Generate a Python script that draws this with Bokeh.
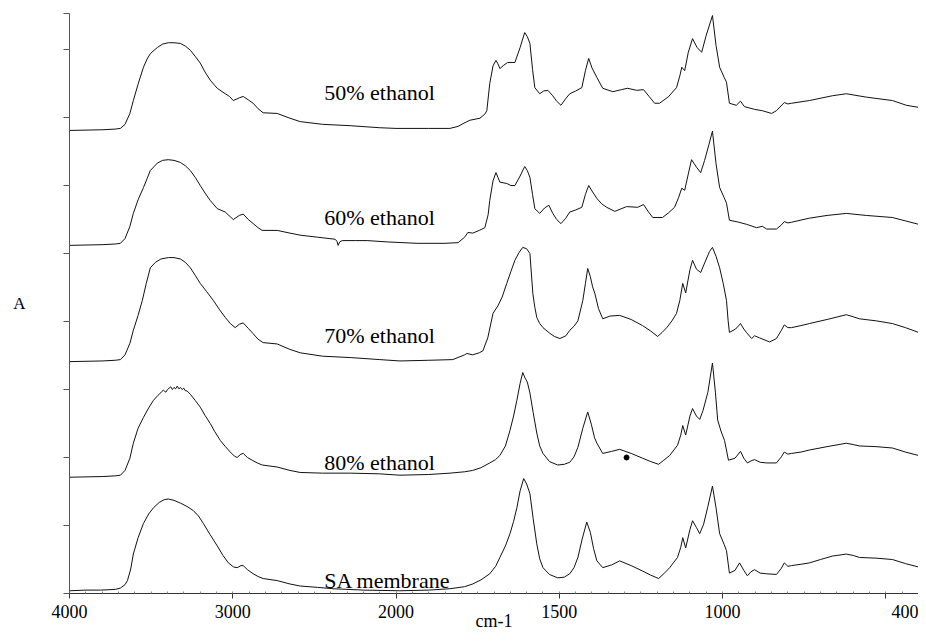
import numpy as np
from bokeh.plotting import figure
from bokeh.models import Range1d, FixedTicker
from bokeh.embed import file_html
from bokeh.resources import INLINE
from bokeh.core.properties import value

# ---------------- data ----------------
series_names = ["SA membrane", "80% ethanol", "70% ethanol", "60% ethanol", "50% ethanol"]
offsets = [0.04, 1.71, 3.41, 5.12, 6.81]          # vertical stacking offsets (A units)
label_heights = [0.15, 0.22, 0.38, 0.41, 0.56]    # label heights above each baseline
label_wn = 2440

# (wavenumber cm-1, absorbance above own baseline)
pts_sa = [(4000, 0.00), (3900, 0.01), (3810, 0.01), (3720, 0.02), (3688, 0.04), (3660, 0.09), (3645, 0.15),
          (3625, 0.32), (3609, 0.54), (3580, 0.78), (3547, 0.99), (3515, 1.13), (3486, 1.22), (3450, 1.30),
          (3420, 1.34), (3395, 1.35), (3360, 1.33), (3321, 1.29), (3280, 1.24), (3242, 1.18), (3210, 1.10),
          (3180, 0.99), (3140, 0.83), (3095, 0.66), (3060, 0.52), (3027, 0.41), (2995, 0.35), (2973, 0.34),
          (2950, 0.37), (2936, 0.37), (2910, 0.31), (2875, 0.25), (2845, 0.21), (2814, 0.18), (2728, 0.15),
          (2650, 0.10), (2587, 0.07), (2480, 0.05), (2385, 0.03), (2200, 0.01), (1988, 0.00), (1900, 0.01),
          (1835, 0.03), (1790, 0.06), (1765, 0.10), (1740, 0.16), (1713, 0.25), (1695, 0.36), (1682, 0.49),
          (1665, 0.66), (1651, 0.84), (1640, 1.02), (1630, 1.22), (1620, 1.47), (1609, 1.65), (1600, 1.57),
          (1590, 1.43), (1580, 1.06), (1569, 0.69), (1560, 0.47), (1550, 0.34), (1530, 0.24), (1505, 0.19),
          (1485, 0.20), (1468, 0.25), (1455, 0.34), (1443, 0.49), (1430, 0.76), (1416, 1.01), (1405, 0.86),
          (1395, 0.62), (1385, 0.44), (1367, 0.34), (1340, 0.38), (1315, 0.44), (1280, 0.37), (1245, 0.29),
          (1220, 0.23), (1196, 0.18), (1180, 0.25), (1162, 0.34), (1138, 0.49), (1128, 0.64), (1122, 0.78),
          (1113, 0.63), (1100, 0.90), (1092, 1.03), (1080, 0.93), (1070, 0.84), (1058, 0.98), (1045, 1.24),
          (1031, 1.54), (1020, 1.22), (1009, 0.84), (995, 0.68), (988, 0.59), (979, 0.26), (962, 0.30),
          (948, 0.41), (935, 0.30), (924, 0.22), (913, 0.28), (902, 0.31), (885, 0.26), (865, 0.25),
          (835, 0.24), (820, 0.33), (811, 0.41), (800, 0.36), (789, 0.37), (760, 0.39), (734, 0.41),
          (700, 0.46), (664, 0.51), (621, 0.54), (600, 0.52), (581, 0.49), (530, 0.48), (480, 0.46),
          (440, 0.40), (400, 0.35)]

pts_80 = [(4000, 0.00), (3800, 0.01), (3720, 0.02), (3688, 0.03), (3660, 0.10), (3630, 0.28), (3609, 0.50),
          (3580, 0.72), (3547, 0.88), (3515, 1.02), (3486, 1.13), (3460, 1.20), (3450, 1.22), (3435, 1.26),
          (3425, 1.28), (3410, 1.25), (3400, 1.29), (3390, 1.31), (3380, 1.33), (3370, 1.29), (3360, 1.32),
          (3350, 1.30), (3340, 1.34), (3330, 1.30), (3320, 1.32), (3310, 1.29), (3300, 1.31), (3290, 1.27),
          (3280, 1.27), (3260, 1.22), (3230, 1.13), (3199, 1.03), (3170, 0.91), (3138, 0.79), (3110, 0.67),
          (3076, 0.54), (3045, 0.45), (3015, 0.37), (2990, 0.31), (2973, 0.29), (2950, 0.34), (2936, 0.35),
          (2910, 0.29), (2881, 0.25), (2850, 0.21), (2820, 0.18), (2728, 0.15), (2650, 0.10), (2587, 0.07),
          (2450, 0.06), (2281, 0.06), (2100, 0.05), (1988, 0.03), (1900, 0.04), (1835, 0.06), (1790, 0.08),
          (1765, 0.10), (1740, 0.14), (1713, 0.21), (1695, 0.26), (1682, 0.32), (1665, 0.46), (1651, 0.69),
          (1640, 0.90), (1630, 1.13), (1620, 1.38), (1612, 1.54), (1605, 1.46), (1598, 1.40), (1590, 1.24),
          (1580, 0.95), (1569, 0.65), (1560, 0.46), (1550, 0.35), (1530, 0.23), (1505, 0.18), (1485, 0.19),
          (1468, 0.22), (1455, 0.30), (1443, 0.44), (1428, 0.72), (1413, 0.96), (1402, 0.78), (1392, 0.58),
          (1385, 0.50), (1367, 0.35), (1340, 0.38), (1315, 0.41), (1280, 0.35), (1245, 0.28), (1220, 0.23),
          (1196, 0.19), (1180, 0.25), (1162, 0.32), (1138, 0.47), (1128, 0.62), (1122, 0.76), (1113, 0.62),
          (1100, 0.90), (1092, 1.01), (1080, 0.90), (1070, 0.85), (1060, 0.98), (1045, 1.25), (1031, 1.68),
          (1022, 1.25), (1015, 0.84), (1005, 0.68), (994, 0.54), (982, 0.25), (962, 0.28), (945, 0.38),
          (935, 0.28), (924, 0.21), (913, 0.24), (902, 0.26), (885, 0.22), (865, 0.21), (835, 0.21),
          (820, 0.30), (811, 0.37), (800, 0.34), (789, 0.35), (760, 0.37), (734, 0.40), (680, 0.45),
          (621, 0.50), (600, 0.48), (581, 0.46), (530, 0.45), (480, 0.43), (440, 0.37), (400, 0.32)]

pts_70 = [(4000, 0.00), (3800, 0.01), (3720, 0.02), (3688, 0.03), (3660, 0.10), (3630, 0.27), (3609, 0.46),
          (3580, 0.68), (3554, 0.90), (3530, 1.15), (3505, 1.38), (3474, 1.46), (3440, 1.51), (3395, 1.53),
          (3360, 1.53), (3321, 1.51), (3290, 1.46), (3260, 1.38), (3230, 1.27), (3199, 1.15), (3160, 1.03),
          (3119, 0.90), (3080, 0.76), (3046, 0.65), (3015, 0.56), (2985, 0.50), (2960, 0.55), (2936, 0.57),
          (2905, 0.49), (2875, 0.41), (2845, 0.33), (2814, 0.28), (2728, 0.26), (2650, 0.18), (2587, 0.13),
          (2450, 0.08), (2281, 0.06), (2100, 0.03), (1988, 0.01), (1900, 0.02), (1826, 0.03), (1790, 0.10),
          (1783, 0.12), (1765, 0.10), (1745, 0.13), (1734, 0.16), (1719, 0.35), (1703, 0.71), (1688, 0.82),
          (1675, 0.95), (1661, 1.15), (1648, 1.33), (1636, 1.49), (1624, 1.60), (1612, 1.68), (1600, 1.66),
          (1590, 1.59), (1581, 1.00), (1575, 0.80), (1569, 0.65), (1560, 0.56), (1550, 0.50), (1530, 0.42),
          (1515, 0.37), (1498, 0.34), (1480, 0.38), (1468, 0.46), (1455, 0.52), (1443, 0.60), (1428, 0.90),
          (1420, 1.15), (1413, 1.37), (1405, 1.25), (1398, 1.10), (1391, 1.00), (1380, 0.78), (1367, 0.63),
          (1345, 0.67), (1315, 0.68), (1280, 0.62), (1245, 0.53), (1220, 0.45), (1199, 0.37), (1185, 0.43),
          (1171, 0.50), (1155, 0.60), (1141, 0.71), (1131, 0.90), (1122, 1.15), (1113, 1.01), (1100, 1.35),
          (1092, 1.49), (1080, 1.36), (1067, 1.31), (1055, 1.45), (1040, 1.62), (1031, 1.68), (1020, 1.55),
          (1009, 1.38), (998, 1.15), (988, 0.90), (983, 0.60), (979, 0.43), (960, 0.48), (945, 0.56),
          (935, 0.48), (927, 0.43), (911, 0.34), (902, 0.38), (887, 0.35), (856, 0.29), (835, 0.34),
          (820, 0.46), (811, 0.54), (800, 0.50), (789, 0.50), (760, 0.53), (734, 0.56), (680, 0.62),
          (621, 0.69), (600, 0.66), (581, 0.63), (530, 0.60), (480, 0.56), (440, 0.50), (400, 0.43)]

pts_60 = [(4000, 0.00), (3800, 0.01), (3720, 0.02), (3688, 0.03), (3660, 0.10), (3630, 0.28), (3609, 0.47),
          (3580, 0.67), (3547, 0.85), (3525, 0.98), (3505, 1.10), (3462, 1.21), (3430, 1.25), (3395, 1.26),
          (3360, 1.25), (3321, 1.22), (3290, 1.17), (3260, 1.10), (3230, 1.00), (3199, 0.88), (3170, 0.77),
          (3138, 0.66), (3095, 0.54), (3046, 0.49), (3015, 0.42), (2997, 0.38), (2960, 0.44), (2936, 0.46),
          (2905, 0.38), (2875, 0.32), (2845, 0.26), (2820, 0.22), (2728, 0.22), (2650, 0.18), (2587, 0.15),
          (2480, 0.12), (2373, 0.09), (2362, 0.06), (2355, 0.00), (2345, 0.05), (2330, 0.07), (2250, 0.07),
          (2177, 0.07), (2050, 0.05), (1936, 0.03), (1850, 0.03), (1810, 0.04), (1790, 0.12), (1780, 0.19),
          (1765, 0.18), (1745, 0.22), (1728, 0.26), (1718, 0.45), (1713, 0.66), (1703, 0.95), (1694, 1.07),
          (1688, 1.00), (1682, 0.93), (1661, 0.91), (1648, 0.88), (1636, 0.88), (1620, 1.02), (1606, 1.16),
          (1598, 1.10), (1590, 1.00), (1582, 0.75), (1575, 0.54), (1560, 0.47), (1545, 0.55), (1532, 0.59),
          (1520, 0.47), (1508, 0.38), (1495, 0.32), (1480, 0.40), (1468, 0.49), (1450, 0.52), (1431, 0.56),
          (1420, 0.75), (1410, 0.88), (1400, 0.80), (1385, 0.69), (1370, 0.61), (1355, 0.56), (1330, 0.50),
          (1294, 0.57), (1260, 0.56), (1242, 0.60), (1228, 0.50), (1214, 0.41), (1184, 0.41), (1165, 0.48),
          (1147, 0.56), (1135, 0.70), (1125, 0.84), (1116, 0.81), (1105, 1.05), (1095, 1.26), (1080, 1.15),
          (1067, 1.07), (1055, 1.25), (1042, 1.48), (1031, 1.68), (1020, 1.20), (1009, 0.85), (995, 0.70),
          (988, 0.62), (979, 0.37), (950, 0.34), (927, 0.31), (896, 0.26), (878, 0.28), (865, 0.24),
          (835, 0.24), (820, 0.30), (811, 0.35), (800, 0.33), (789, 0.34), (734, 0.40), (680, 0.44),
          (621, 0.47), (560, 0.44), (480, 0.41), (440, 0.36), (400, 0.31)]

pts_50 = [(4000, 0.00), (3800, 0.01), (3720, 0.02), (3688, 0.03), (3660, 0.09), (3630, 0.25), (3609, 0.44),
          (3580, 0.68), (3547, 0.93), (3525, 1.05), (3505, 1.13), (3462, 1.22), (3430, 1.27), (3395, 1.29),
          (3360, 1.29), (3321, 1.28), (3290, 1.24), (3260, 1.18), (3230, 1.09), (3199, 0.99), (3170, 0.86),
          (3138, 0.74), (3110, 0.66), (3095, 0.62), (3046, 0.54), (3020, 0.50), (2997, 0.44), (2960, 0.48),
          (2936, 0.50), (2905, 0.45), (2875, 0.40), (2845, 0.32), (2814, 0.26), (2728, 0.25), (2650, 0.18),
          (2587, 0.13), (2450, 0.09), (2281, 0.07), (2100, 0.04), (2000, 0.03), (1900, 0.03), (1835, 0.03),
          (1810, 0.06), (1795, 0.10), (1774, 0.15), (1743, 0.18), (1728, 0.24), (1722, 0.29), (1713, 0.69),
          (1703, 0.95), (1694, 1.03), (1688, 0.98), (1682, 0.91), (1670, 0.96), (1658, 1.00), (1636, 1.00),
          (1620, 1.22), (1606, 1.44), (1598, 1.38), (1590, 1.28), (1582, 0.90), (1575, 0.63), (1560, 0.54),
          (1548, 0.58), (1535, 0.59), (1520, 0.51), (1508, 0.43), (1495, 0.37), (1480, 0.47), (1468, 0.54),
          (1450, 0.58), (1431, 0.63), (1420, 0.88), (1410, 1.06), (1400, 0.92), (1385, 0.78), (1367, 0.62),
          (1336, 0.57), (1310, 0.60), (1291, 0.62), (1263, 0.59), (1242, 0.60), (1225, 0.50), (1208, 0.40),
          (1193, 0.40), (1165, 0.50), (1141, 0.63), (1130, 0.82), (1125, 0.93), (1116, 0.88), (1105, 1.15),
          (1092, 1.35), (1078, 1.22), (1064, 1.15), (1050, 1.40), (1031, 1.69), (1020, 1.25), (1009, 0.93),
          (995, 0.78), (988, 0.71), (979, 0.40), (958, 0.37), (945, 0.43), (933, 0.35), (902, 0.31),
          (878, 0.29), (850, 0.25), (835, 0.29), (811, 0.41), (800, 0.39), (789, 0.40), (734, 0.44),
          (664, 0.51), (621, 0.54), (560, 0.49), (480, 0.44), (437, 0.37), (400, 0.34)]

spectra = [pts_sa, pts_80, pts_70, pts_60, pts_50]

# stray dot printed near the 80% trace
dot_wn = [1294]
dot_a = [0.29]

tick_wn = [4000, 3000, 2000, 1500, 1000, 500, 400]
tick_labels = ["4000", "3000", "2000", "1500", "1000", "", "400"]
x_title = "cm-1"
y_title = "A"
y_ticks = [0, 1, 2, 3, 4, 5, 6, 7, 8, 8.53]


# axis is expanded x2 below 2000 cm-1
def to_u(wn):
    wn = np.asarray(wn, dtype=float)
    return np.where(wn >= 2000, 4000 - wn, 2000 + 2 * (2000 - wn))


FONT = "Liberation Serif"

p = figure(width=918, height=636, output_backend="svg", toolbar_location=None,
           x_range=Range1d(0, 5200), y_range=Range1d(0, 8.53),
           min_border_left=69, min_border_right=0, min_border_top=13, min_border_bottom=43)
p.outline_line_color = None
p.grid.visible = False
p.background_fill_color = "white"
p.border_fill_color = "white"

for pts, off in zip(spectra, offsets):
    wn = [w for w, _ in pts]
    a = np.array([v for _, v in pts])
    p.line(to_u(wn), a + off, line_color="#111111", line_width=1)

p.scatter(to_u(dot_wn), np.asarray(dot_a) + offsets[1], size=5, color="black")

p.text(x=to_u([label_wn] * len(series_names)),
       y=np.asarray(offsets) + np.asarray(label_heights),
       text=series_names, text_font=value(FONT), text_font_size="22px",
       text_align="left", text_baseline="middle", text_color="black")

# x axis
xt = [float(v) for v in to_u(tick_wn)]
p.xaxis.ticker = FixedTicker(ticks=xt, minor_ticks=list(range(0, 5201, 100)))
p.xaxis.major_label_overrides = {t: lab for t, lab in zip(xt, tick_labels)}
p.xaxis.major_label_text_font = FONT
p.xaxis.major_label_text_font_size = "18px"
p.xaxis.major_label_text_color = "black"
p.xaxis.major_label_text_line_height = 0.9
p.xaxis.major_label_standoff = 6
p.xaxis.major_tick_out = 5
p.xaxis.major_tick_in = 0
p.xaxis.minor_tick_in = 2
p.xaxis.minor_tick_out = 0
p.xaxis.axis_line_color = "#333333"
p.xaxis.major_tick_line_color = "#333333"
p.xaxis.minor_tick_line_color = "#888888"
p.xaxis.axis_label = x_title
p.xaxis.axis_label_text_font = FONT
p.xaxis.axis_label_text_font_size = "18px"
p.xaxis.axis_label_text_font_style = "normal"
p.xaxis.axis_label_text_color = "black"
p.xaxis.axis_label_text_line_height = 0.7
p.xaxis.axis_label_standoff = -10

# y axis
p.yaxis.ticker = FixedTicker(ticks=y_ticks, minor_ticks=[])
p.yaxis.major_label_overrides = {t: "" for t in y_ticks}
p.yaxis.major_tick_out = 6
p.yaxis.major_tick_in = 0
p.yaxis.minor_tick_line_color = None
p.yaxis.axis_line_color = "#555555"
p.yaxis.major_tick_line_color = "#555555"
p.yaxis.axis_label = y_title
p.yaxis.axis_label_orientation = "horizontal"
p.yaxis.axis_label_standoff = 38
p.yaxis.axis_label_text_font = FONT
p.yaxis.axis_label_text_font_size = "17px"
p.yaxis.axis_label_text_font_style = "normal"
p.yaxis.axis_label_text_color = "black"

open("out.html", "w").write(file_html(p, INLINE))
